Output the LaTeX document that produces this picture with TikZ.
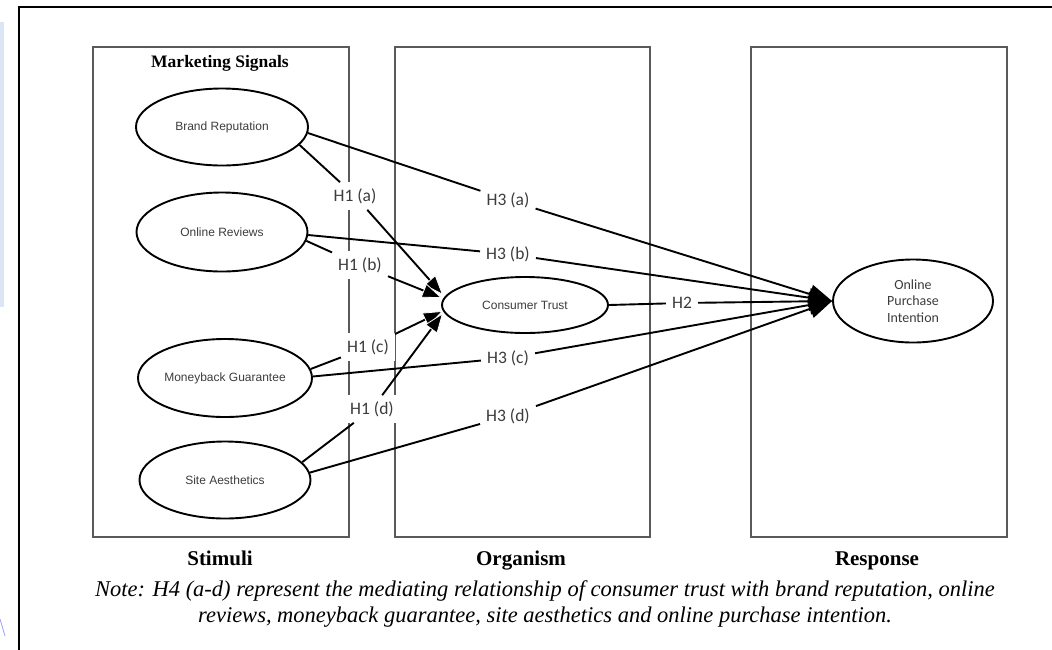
\documentclass[tikz,border=0pt]{standalone}
\usepackage{fontspec}
\setmainfont{Liberation Serif}
\newfontfamily\ovalfont{Liberation Sans}
\newfontfamily\hypfont{Carlito}
\usetikzlibrary{shapes.geometric,arrows.meta,calc}
\definecolor{boxgray}{HTML}{5A5A5A}
\definecolor{txtgray}{HTML}{3C3C3C}
\definecolor{stripblue}{HTML}{DCE5F5}

\begin{document}
\begin{tikzpicture}[x=1pt,y=-1pt,
  panel/.style={draw=boxgray,line width=1.3pt},
  oval/.style={ellipse,draw=black,line width=1.9pt,inner sep=0pt,align=center,
    text=txtgray,font=\ovalfont\fontsize{12}{14}\selectfont},
  hyp/.style={fill=white,inner sep=6pt,text=txtgray,font=\hypfont\fontsize{17.5}{19}\selectfont},
  link/.style={line width=1.9pt,draw=black},
  tipct/.style={-{Triangle[length=20pt,width=15pt,color=white,fill=black,line width=0.8pt]}},
  tipop/.style={-{Triangle[length=23pt,width=19pt]}},
  head/.style={anchor=base,font=\bfseries\fontsize{21}{24}\selectfont},
]
\useasboundingbox (0,0) rectangle (1052,649);
\clip (0,0) rectangle (1052,649);

% page frame and margin strip
\fill[stripblue] (0,22) rectangle (3.5,307);
\draw[stripblue!70!blue,line width=0.8pt] (0,619) -- (5,636);
\draw[line width=2pt] (18.5,700) -- (18.5,7) -- (1100,7);

% the three stages
\draw[panel] (93,47) rectangle (349,537);
\draw[panel] (395,47) rectangle (650,537);
\draw[panel] (751,47) rectangle (1007,537);

\node[anchor=base,font=\bfseries\fontsize{17.5}{20}\selectfont] (ms) at (220,67) {Marketing Signals};

% constructs
\node[oval,minimum width=172pt,minimum height=77pt] (br) at (222,127) {Brand Reputation};
\node[oval,minimum width=171pt,minimum height=79pt] (or) at (222,232) {Online Reviews};
\node[oval,minimum width=174pt,minimum height=78pt] (mg) at (225,378) {Moneyback Guarantee};
\node[oval,minimum width=171pt,minimum height=77pt] (sa) at (225,480) {Site Aesthetics};
\node[oval,minimum width=166pt,minimum height=56pt] (ct) at (525,305) {Consumer Trust};
\node[oval,minimum width=160pt,minimum height=83pt,
      font=\hypfont\fontsize{14}{16.5}\selectfont] (op) at (913,301) {Online\\Purchase\\Intention};

% hypothesis labels
\node[hyp] (h1a) at (355,196) {H1 (a)};
\node[hyp] (h1b) at (360,265) {H1 (b)};
\node[hyp] (h1c) at (368,347) {H1 (c)};
\node[hyp] (h1d) at (372,409) {H1 (d)};
\node[hyp] (h3a) at (508,200) {H3 (a)};
\node[hyp] (h3b) at (508,254) {H3 (b)};
\node[hyp] (h3c) at (508,358) {H3 (c)};
\node[hyp] (h3d) at (508,416) {H3 (d)};
\node[hyp] (h2)  at (682,303) {H2};

% arrow ends at consumer trust
\coordinate (ta) at ($(ct.west)+(2,-10)$);
\coordinate (tb) at ($(ct.west)+(1,-7)$);
\coordinate (tc) at ($(ct.west)+(2,6)$);
\coordinate (td) at ($(ct.west)+(2,8)$);

% H1: marketing signals -> consumer trust
\draw[link] (br.-13) -- (h1a);
\draw[link] (or.-6) -- (h1b);
\draw[link] (mg.6) -- (h1c);
\draw[link] (sa.13) -- (h1d);
\draw[link,tipct] (h1a) -- (ta);
\draw[link,tipct] (h1b) -- (tb);
\draw[link,tipct] (h1c) -- (tc);
\draw[link,tipct] (h1d) -- (td);

% H3: marketing signals -> purchase intention
\draw[link] (br.-4) -- (h3a);
\draw[link] (or.-2) -- (h3b);
\draw[link] (mg.1) -- (h3c);
\draw[link] (sa.5) -- (h3d);
\draw[link,tipop] (h3a) -- (op.west);
\draw[link,tipop] (h3b) -- (op.west);
\draw[link,tipop] (h3c) -- (op.west);
\draw[link,tipop] (h3d) -- (op.west);

% H2: consumer trust -> purchase intention
\draw[link] (ct.east) -- (h2);
\draw[link,tipop] (h2) -- (op.west);

% stage titles and note
\node[head] (st) at (220,565) {Stimuli};
\node[head] (og) at (521,565) {Organism};
\node[head] (rs) at (877,565) {Response};
\node[align=center,font=\itshape\fontsize{22.5}{25.5}\selectfont] (note) at (545,604)
  {Note: H4 (a-d) represent the mediating relationship of consumer trust with brand reputation, online\\
   reviews, moneyback guarantee, site aesthetics and online purchase intention.};
\end{tikzpicture}
\end{document}
